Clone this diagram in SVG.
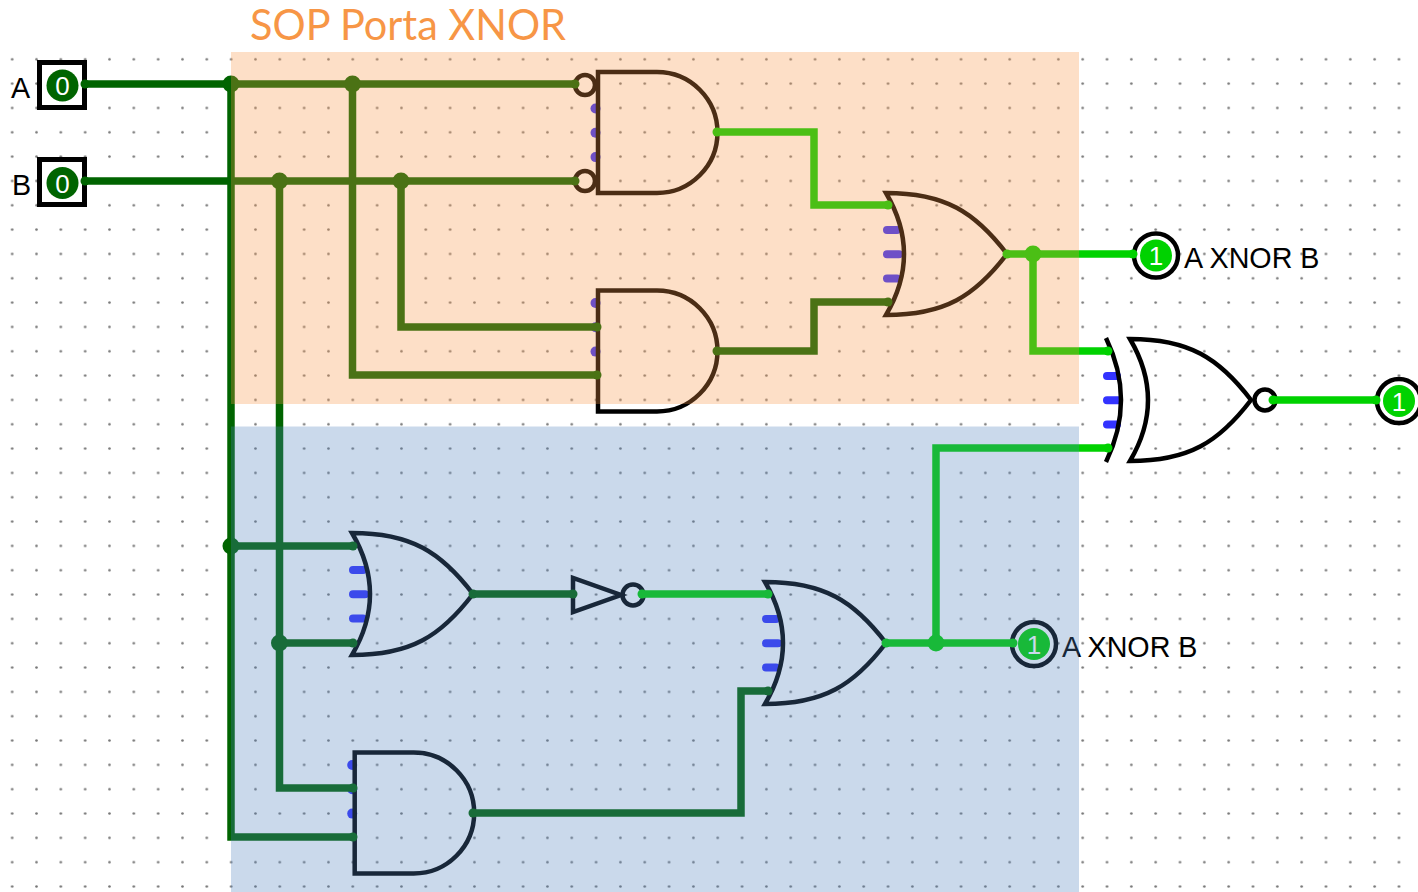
<svg xmlns="http://www.w3.org/2000/svg" width="1418" height="892" viewBox="0 0 1418 892">
<style>
.g{fill:none;stroke:#000;stroke-width:4.5;stroke-linejoin:miter}
.w{fill:none;stroke-width:7.5;stroke-linejoin:miter;stroke-linecap:butt}
.d{stroke:#006400}.b{stroke:#00D200}
.df{fill:#006400}.bf{fill:#00D200}
.stub{stroke:#3333FF;stroke-width:8;stroke-linecap:round;fill:none}
.pin{fill:#3333FF}
.t{font-family:"Liberation Sans",Arial,sans-serif;font-size:28.7px;fill:#000}
.v{font-family:"Liberation Sans",Arial,sans-serif;font-size:26px;fill:#fff;text-anchor:middle}
.box{fill:#fff;stroke:#000;stroke-width:5}
.ring{fill:#fff;stroke:#000;stroke-width:4.5}
</style>
<defs>
<pattern id="dots" patternUnits="userSpaceOnUse" x="0" y="-1.53" width="24.33" height="24.33">
<circle cx="12.17" cy="12.17" r="1.3" fill="#777"/>
</pattern>
<g id="and"><path class="g" d="M0,0H59A60.5,60.5 0 0 1 59,121H0Z"/></g>
<g id="orb"><path class="g" d="M0,0Q36,61 0,122C59,122 89,103 121,61C89,19 59,0 0,0Z"/></g>
<g id="pins3"><circle class="pin" cx="0" cy="0" r="5"/><circle class="pin" cx="0" cy="24.3" r="5"/><circle class="pin" cx="0" cy="48.6" r="5"/></g>
<g id="stubs3"><path class="stub" d="M0,0H10M0,24.3H12M0,48.6H10"/></g>
</defs>
<rect width="1418" height="892" fill="#fff"/>
<rect x="0" y="50" width="1418" height="842" fill="url(#dots)"/>

<g id="pins">
<use href="#pins3" x="595.5" y="108.5"/>
<use href="#pins3" x="595.5" y="303"/>
<use href="#stubs3" x="887" y="230"/>
<use href="#stubs3" x="1107" y="376"/>
<use href="#stubs3" x="353" y="570"/>
<use href="#stubs3" x="766" y="619"/>
<use href="#pins3" x="352.2" y="765"/>
</g>

<g id="and-top"><use href="#and" x="598" y="72"/><circle class="g" cx="585" cy="85" r="10"/><circle class="g" cx="585" cy="181" r="10"/></g>
<g id="and-mid"><use href="#and" x="598" y="290.5"/></g>
<g id="or-sop"><use href="#orb" x="886" y="193"/></g>
<g id="xnor"><path class="g" d="M1106,338Q1136,400 1106,462"/><path class="g" d="M1130,339Q1166,400 1130,461C1189,461 1219,442 1251,400C1219,358 1189,339 1130,339Z"/><circle class="g" cx="1265" cy="400" r="10.5"/></g>
<g id="or-low"><use href="#orb" x="352" y="533"/></g>
<g id="not"><path class="g" d="M573,578V612L621,595Z"/><circle class="g" cx="633" cy="595" r="10.5"/></g>
<g id="or-out"><use href="#orb" x="765" y="582"/></g>
<g id="and-low"><use href="#and" x="354.7" y="752.5"/></g>

<g id="input-a"><rect class="box" x="39.5" y="62.5" width="45" height="45"/><circle class="df" cx="62.5" cy="85.5" r="16"/><text class="v" x="62.5" y="95">0</text><text class="t" x="11" y="98">A</text></g>
<g id="input-b"><rect class="box" x="39.5" y="159.5" width="45" height="45"/><circle class="df" cx="62.5" cy="183" r="16"/><text class="v" x="62.5" y="192.5">0</text><text class="t" x="12" y="195">B</text></g>
<g id="output-1"><circle class="ring" cx="1156" cy="255.5" r="22"/><circle class="bf" cx="1156" cy="255.5" r="16"/><text class="v" x="1156" y="265">1</text><text class="t" x="1184" y="268">A XNOR B</text></g>
<g id="output-2"><circle class="ring" cx="1034" cy="644" r="22"/><circle class="bf" cx="1034" cy="644" r="16"/><text class="v" x="1034" y="653.5">1</text><text class="t" x="1062" y="657">A XNOR B</text></g>
<g id="output-3"><circle class="ring" cx="1399" cy="401" r="22"/><circle class="bf" cx="1399" cy="401" r="16"/><text class="v" x="1399" y="410.5">1</text></g>

<g id="connectors">
<path class="w d" d="M85,84H575M85,181H575"/>
<path class="w d" d="M231,84V837H353M231,546H353"/>
<path class="w d" d="M352.5,84V375H597M401,181V327H597"/>
<path class="w d" d="M279.5,181V788H353M279.5,643H353"/>
<path class="w d" d="M717,351H814V302H890M473,594H573M473,813H741V691H768"/>
<path class="w b" d="M717,132H814V205H890M1007,254H1133M1033,254V351H1108M642,594H768M886,643H1013M936,643V448H1108M1273,400H1376"/>
<g class="df">
<circle cx="231" cy="84" r="8.5"/><circle cx="352.5" cy="84" r="8.5"/><circle cx="279.5" cy="181" r="8.5"/><circle cx="401" cy="181" r="8.5"/><circle cx="231" cy="546" r="8.5"/><circle cx="279.5" cy="643" r="8.5"/>
<circle cx="85" cy="84" r="4.5"/><circle cx="85" cy="181" r="4.5"/><circle cx="575" cy="84" r="4.5"/><circle cx="575" cy="181" r="4.5"/><circle cx="597" cy="327" r="4.5"/><circle cx="597" cy="375" r="4.5"/><circle cx="717" cy="351" r="4.5"/><circle cx="888" cy="302" r="4.5"/><circle cx="353" cy="546" r="4.5"/><circle cx="353" cy="643" r="4.5"/><circle cx="353" cy="788" r="4.5"/><circle cx="353" cy="837" r="4.5"/><circle cx="473" cy="594" r="4.5"/><circle cx="573" cy="594" r="4.5"/><circle cx="473" cy="813" r="4.5"/><circle cx="768" cy="691" r="4.5"/>
</g>
<g class="bf">
<circle cx="1033" cy="254" r="8.5"/><circle cx="936" cy="643" r="8.5"/>
<circle cx="717" cy="132" r="4.5"/><circle cx="888" cy="205" r="4.5"/><circle cx="1007" cy="254" r="4.5"/><circle cx="1133" cy="254" r="4.5"/><circle cx="1108" cy="351" r="4.5"/><circle cx="1108" cy="448" r="4.5"/><circle cx="642" cy="594" r="4.5"/><circle cx="768" cy="594" r="4.5"/><circle cx="886" cy="643" r="4.5"/><circle cx="1013" cy="643" r="4.5"/><circle cx="1273" cy="400" r="4.5"/><circle cx="1376" cy="400" r="4.5"/>
</g>
</g>

<rect x="231" y="52" width="848" height="352" fill="#F79646" fill-opacity="0.3"/>
<rect x="231" y="426.5" width="848" height="466" fill="#4F81BD" fill-opacity="0.3"/>
<text x="250" y="40" font-family="Lato,sans-serif" font-size="42" textLength="316" lengthAdjust="spacingAndGlyphs" fill="#F79646">SOP Porta XNOR</text>
</svg>
